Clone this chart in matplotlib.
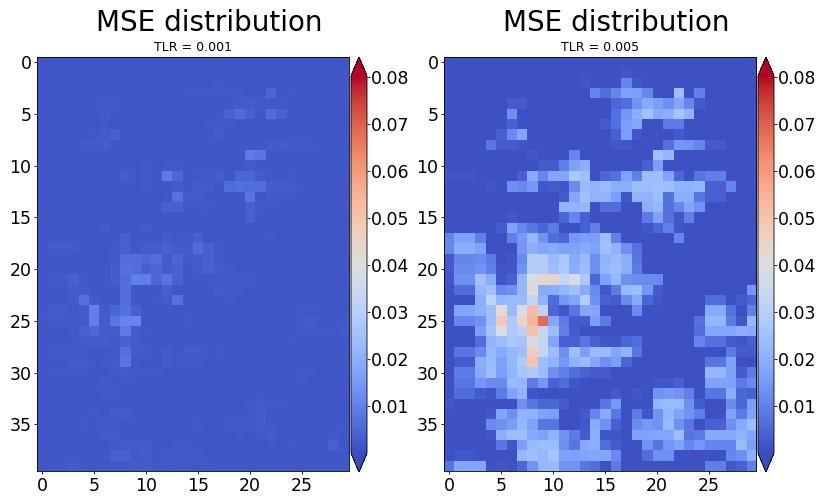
import numpy as np
import matplotlib
matplotlib.use('Agg')
import matplotlib.pyplot as plt

# values, in thousandths of MSE
mse_001 = [
    [2,2,2,2,2,2,2,2,2,2, 2,2,2,2,2,2,2,2,2,2, 2,2,2,2,2,2,2,2,2,2],
    [2,2,2,2,2,2,2,2,2,2, 2,2,2,2,2,2,2,2,2,2, 2,2,2,2,2,2,2,2,2,2],
    [2,2,2,2,2,2,2,2,2,2, 2,2,2,2,2,2,2,2.5,2,2, 2,2,2,2,2,2,2,2,2,2],
    [2,2,2,2,2,2,2,2,2,2, 2,2,2,2,2.5,2.5,2.5,2.5,2.5,2.5, 2,2,5,2,2.5,2,2,2,2,2],
    [2,2,2,2,2,2,2.5,2.5,2,2, 2,2,2,2,2,2,2,2,2,3, 3,2.5,2.5,2.5,2,2,2,2,2,2],
    [2,2,2,2,2,2,3,2,2,2, 2,2,2,2,2,2,2,2.5,4,6, 4,2,6,4,2,2,2,2,2,2],
    [2,2,2,2,2,2,2.5,2,2,2, 2,2,2,2,2,2,2.5,2.5,2.5,2, 2,2,2,2,2,2,2,2,2,2],
    [2,2,2,2,2,2.5,3,4,2,2, 2,2,2,2,2,2,2,3,2,2, 2,2,2,2,2,2,2,2,2,2],
    [2,2,2,2,3,3,3,2,2,2, 2,2,2,2,2,2,2,2,2,2, 2,2,3,3,2.5,2.5,2.5,2,2,2],
    [2,2,2,2,2,2,2,2,2,2, 2,2,2,2,2,2,2,2,2,2, 9,8,2,2,2,2,2,2,2,2],
    [2,2,2,2,2,2,2,2,2,2, 2.5,2,2.5,2.5,2,2,2,2,2,2, 3,2,2,2,2,2,2,2,2,2],
    [2,2,2,2,2,2,2,2,3,2, 2.5,2,9,5,2,2.5,2.5,3,2,5, 5,3,2,2,2.5,2,2,2,2,2],
    [2,2,2,2,2,2,2,2,2,2, 2.5,2,2,3,2,3,3,2,6,7, 6,6,3,3,3,2,2,2,2,2],
    [2,2,2,2,2,2,2,2,2,2, 2,2,2.5,7,3,3,2,2,2,2, 8,2,3,2.5,2.5,2,2,2,2,2],
    [2,2,2,2,2,2,2,2,2,2, 2,2,4,4,2,2.5,2.5,2,2,2, 4,2.5,2,2,2,2,2,2,2,2],
    [2,2,2,2,2,2,2,2,2,2, 2,2,2,2,2,2,2,2,2,2, 4,2,2,2,2,2,2,2,2,2],
    [2,2,2,2,2,2,3,2,2,2, 3,2,2,2,2,2,2,2,2,2, 2,2,2,2,2,2,2,2,2,2],
    [2,2,2,2,2,2,2,2,4,2, 2,2,3,2.5,2.5,4,2,2,2,2, 2,2,2.5,2,2,2,2,2,2,2],
    [2,3,3,3,2,2,2,2.5,4,2.5, 3,3,4,3,3,6,4,2.5,2,2, 2,2,2,2,2,2,2,2,2,2],
    [2,2,2,2,2,2,2,2.5,6,6, 5,6,3,5,2.5,3,4,2.5,2,2, 2,2,2,2,2,2,2,2,2,2],
    [2,2,2,2,2,2,2,3,7,6, 4,5,3,4,2,3,4,3,2.5,2, 2,2,2,2,2,2,2,2,2,2],
    [2,2.5,2.5,4,2.5,2,2,3,6,10, 10,5,8,4,2,2,2,2.5,2.5,2.5, 2.5,2,2,2,2,2,2,2,2,2],
    [2,2,2,3,3,2,2,2,6,2, 2,2,4,2,2,2,2,3,2.5,2.5, 2,2,2,2,2,2,2,2,2,2],
    [2,2,2,3,7,3,2,2,6,2, 2,2.5,3,7,2,2,2,2,2.5,2, 2,2,2,2,2,2,2,2,2,2],
    [2,3,3,2.5,3,10,3,5,7,4, 2,2,2,2,2,2,2,2,2,2, 2,2,2,2,2,2.5,2.5,2,2,2],
    [2,3,3,2.5,3,10,3,8,11,11, 2,2,2,2,2.5,2,2,2,2,2, 2,2,2,2,2,3,3,2,2,2.5],
    [2,2,2,2.5,4,5,3,3,9,3, 2.5,2,2,2,2,2,2,2,2,2, 2,2,2,2,2,2.5,2.5,2.5,2.5,3],
    [2,2,2,2,3,3,3,2.5,4,3, 2,2,2,2,2,2,2,2,2,2, 2,2,2,2,2.5,2,2,2,2,2],
    [2,2.5,2.5,2.5,2.5,2,2,2.5,7,3, 3,2,3,2,3,3,2,2.5,2,2, 2,2,2,2,2,2,2,2,2,2],
    [2,2,2,3,3,2,2.5,3,8,2.5, 2,2,3,2.5,2.5,2.5,2,2,2,2, 2,2,2,2,2,2,2,2,2,2],
    [2,2.5,2.5,2.5,2.5,2,2,2.5,3,2.5, 2.5,2.5,2,2,2,2,2,2,2,2, 2,2,2,2,2,2.5,2.5,2,2,2],
    [2,2,2,2,2,2,3,2,2,2, 2,2,2,2,2,2,2,2,2,2, 2,2,2,2,2,2.5,2,2,2,2],
    [2,2,2,2,2,2,2.5,2.5,2,2, 2,2,2,2,2,2,2,2,2,2, 2,2,2,2,2,2,2,2,2,2],
    [2,2,2,2,2,2,2,2,2,2, 2,2,2,2,2,2,2,2,2,2, 2.5,3,2.5,2.5,2,2,2,2,2,2],
    [2,2,2,2,2,2.5,2,3,3,2, 2,2,2,2,2,2,2,2,2,2, 2,3,2,2,2,2,2,2,2,2],
    [2,2,2,2,2.5,2,2.5,2.5,2,2, 2,2,2,2,2,2.5,2,2,2.5,2.5, 2.5,3,2,2,2,2,2,2,2,2.5],
    [2,2,2,2,2,2,3,3,2,2, 2,2,2,2,2,2,2,2,2,2.5, 2,2.5,3,2,2,2,2,2,2.5,2],
    [2,2,2,2,2,2,2,2.5,3,3, 3,2,2,2.5,2.5,2,2,2,2,2, 2,2,2.5,2,2.5,2,2,2,4,2],
    [2,2,2,2,2,2,2,4,4,2.5, 3,2,2.5,2.5,2.5,2.5,2,2,2,2, 2,2,2,2,2,2,2,2,2,2],
    [2,2,2,3,2,2,2,2,2,3, 3,2.5,2.5,2,2,2,2.5,2,2,2, 2,2,2,2,2,2,2,2,2,2],
]

mse_005 = [
    [1,1,1,1,1,1,1,1,1,1, 1,1,1,1,1,1,1,1,1,1, 1,1,1,1,1,1,1,1,1,1],
    [1,1,1,1,1,1,1,1,1,1, 1,1,1,1,1,1,1,2,1,1, 1,1,1,1,1,1,1,1,1,1],
    [1,1,1,1,1,1,1,1,1,1, 1,1,1,2,1,1,1,11,2,1, 1,1,1,1,1,1,1,1,1,1],
    [1,1,1,1,1,1,1,1,1,1, 1,1,1,1,11,6,11,17,16,11, 1,1,24,1,10,1,1,1,1,1],
    [1,1,1,1,1,1,3,3,1,1, 1,1,1,1,1,1,5,6,14,19, 16,13,18,11,3,1,1,1,1,1],
    [1,1,1,1,1,1,13,1,1,1, 1,1,1,1,1,1,7,15,20,25, 19,20,26,21,1,1,1,1,1,1],
    [1,1,1,1,1,1,4,1,1,1, 1,1,1,1,1,3,7,16,18,1, 1,9,9,1,1,1,1,1,1,1],
    [1,1,1,1,1,4,12,18,1,1, 1,1,1,1,1,1,4,16,2,1, 1,1,3,1,1,1,1,1,1,1],
    [1,1,1,1,8,3,3,2,1,1, 1,1,1,1,1,1,2,2,1,1, 1,7,15,14,11,3,3,1,1,1],
    [1,1,1,1,1,1,1,1,2,1, 1,1,11,1,1,1,1,1,1,1, 25,22,1,1,1,1,1,1,1,1],
    [1,1,1,1,1,1,1,1,1,3, 3,10,17,20,1,1,1,1,1,4, 16,1,1,1,1,1,1,1,1,1],
    [2,2,2,1,1,1,1,4,19,11, 18,18,27,24,1,5,7,17,10,24, 24,17,5,1,8,10,10,1,1,1],
    [1,1,1,1,2,1,13,12,15,2, 3,2,12,23,21,23,20,20,24,24, 25,24,21,21,22,4,4,11,1,1],
    [1,1,1,1,1,1,1,1,1,1, 1,3,18,25,21,21,16,2,21,21, 24,7,20,20,8,4,4,1,1,1],
    [1,1,1,1,1,1,1,1,1,1, 1,21,21,22,1,6,6,1,1,20, 22,7,11,18,14,1,1,1,1,1],
    [1,1,1,1,1,1,2,1,1,1, 1,5,11,4,1,1,1,1,1,9, 17,7,2,10,1,1,1,1,1,1],
    [1,1,1,1,1,3,17,11,8,5, 9,1,1,4,10,1,1,1,1,2, 5,10,2,1,1,1,1,1,1,1],
    [11,17,17,10,1,1,10,15,22,14, 6,5,15,16,16,24,10,1,1,1, 1,1,11,1,1,1,1,1,1,1],
    [11,20,20,17,1,1,1,15,20,18, 19,17,17,19,17,25,21,13,7,1, 1,1,1,1,1,1,1,1,1,1],
    [3,11,11,12,9,1,2,12,29,29, 23,27,19,23,13,21,23,20,8,1, 1,1,1,1,1,1,1,1,1,1],
    [3,12,12,14,10,2,2,14,29,29, 24,28,20,24,13,22,24,20,9,1, 1,1,1,1,1,1,1,1,1,1],
    [2,13,13,25,19,2,4,22,38,44, 44,33,38,27,5,17,22,13,12,12, 12,1,1,1,1,1,1,1,1,1],
    [1,6,6,22,25,12,13,22,42,19, 20,22,25,19,12,2,9,23,24,15, 3,1,1,1,1,1,1,1,1,15],
    [1,1,1,20,32,22,23,23,33,21, 6,15,18,29,13,4,3,12,19,5, 2,1,1,1,1,6,6,1,3,5],
    [1,18,18,20,24,43,23,38,52,32, 5,2,8,18,18,1,1,1,12,1, 1,1,1,1,1,19,19,7,1,10],
    [1,11,11,13,24,48,28,44,54,68, 18,9,3,3,16,9,1,1,1,1, 1,1,1,1,7,22,22,9,2,22],
    [1,1,1,16,26,39,28,31,51,34, 24,10,3,1,1,1,1,1,1,1, 1,1,1,1,6,18,18,18,20,19],
    [1,1,1,6,21,24,27,26,38,34, 18,4,4,8,4,2,2,5,6,1, 1,1,1,1,11,7,7,3,2,4],
    [1,8,8,12,22,19,22,24,47,34, 24,13,24,16,23,23,18,21,8,1, 1,1,1,1,1,1,1,9,3,3],
    [1,3,3,20,23,17,22,28,50,24, 21,15,21,23,18,13,16,5,1,1, 1,1,1,1,1,8,8,17,1,1],
    [1,9,9,19,24,16,21,26,28,24, 13,10,6,4,3,3,1,1,1,1, 1,1,1,1,1,22,22,17,3,9],
    [1,8,8,15,12,12,23,22,9,15, 4,6,2,1,1,1,1,1,1,1, 2,2,4,1,1,17,17,17,9,12],
    [1,6,6,3,2,9,17,21,2,1, 1,1,1,1,1,1,3,1,2,1, 14,15,14,10,1,8,8,20,5,4],
    [2,1,1,1,1,1,1,13,8,5, 5,3,1,1,1,8,15,1,1,1, 22,23,23,13,3,1,1,12,5,16],
    [1,1,1,1,2,18,13,21,21,17, 16,1,1,3,11,19,8,1,9,2, 14,22,17,14,10,1,1,17,9,17],
    [1,1,1,1,12,13,16,22,17,8, 8,1,1,2,19,13,4,1,12,15, 14,23,13,8,1,4,4,13,19,24],
    [1,1,1,1,2,20,24,24,19,17, 21,14,9,3,20,2,2,1,17,17, 18,18,24,8,9,19,19,19,21,18],
    [1,1,1,1,1,8,2,16,23,24, 24,13,8,19,20,6,3,1,1,14, 8,15,17,11,15,11,11,11,23,16],
    [1,2,2,1,1,1,1,22,24,22, 26,17,17,18,18,18,12,1,1,6, 13,13,1,1,1,1,1,11,13,20],
    [8,18,18,18,1,2,1,5,14,22, 23,14,14,8,6,1,9,1,1,1, 1,1,1,1,1,10,10,2,4,10],
]

tlr_labels = ['TLR = 0.001', 'TLR = 0.005']
cbar_ticks = [0.01, 0.02, 0.03, 0.04, 0.05, 0.06, 0.07, 0.08]

W, H = 819, 496
fig = plt.figure(figsize=(W / 100, H / 100), dpi=100)

lefts = [37, 444]
for left, values, label in zip(lefts, [mse_001, mse_005], tlr_labels):
    ax = fig.add_axes([left / W, 1 - 471 / H, 312 / W, 414 / H])
    im = ax.imshow(np.array(values) * 0.001, cmap='coolwarm', vmin=0, vmax=0.0802,
                   aspect='auto', interpolation='nearest')
    ax.set_xticks(range(0, 30, 5))
    ax.set_yticks(range(0, 40, 5))
    ax.tick_params(labelsize=12.5, length=2.2, width=0.6, pad=1.8)
    for s in ax.spines.values():
        s.set_linewidth(0.6)
    ax.set_title(label, fontsize=9, pad=4)
    fig.text((left + 172) / W, 1 - 23 / H, 'MSE distribution', fontsize=20,
             ha='center', va='center')

    # cax holds the arrows too, so it spans the full height of the image
    cax = fig.add_axes([(left + 314) / W, 1 - 472 / H, 16 / W, 415 / H])
    cb = fig.colorbar(im, cax=cax, extend='both', ticks=cbar_ticks)
    cb.ax.tick_params(labelsize=12.5, length=2, width=0.6, pad=1)
    cb.outline.set_linewidth(0.6)
    cb.ax.set_yticklabels(['%.2f' % t for t in cbar_ticks])

fig.savefig('out.png', dpi=100)
